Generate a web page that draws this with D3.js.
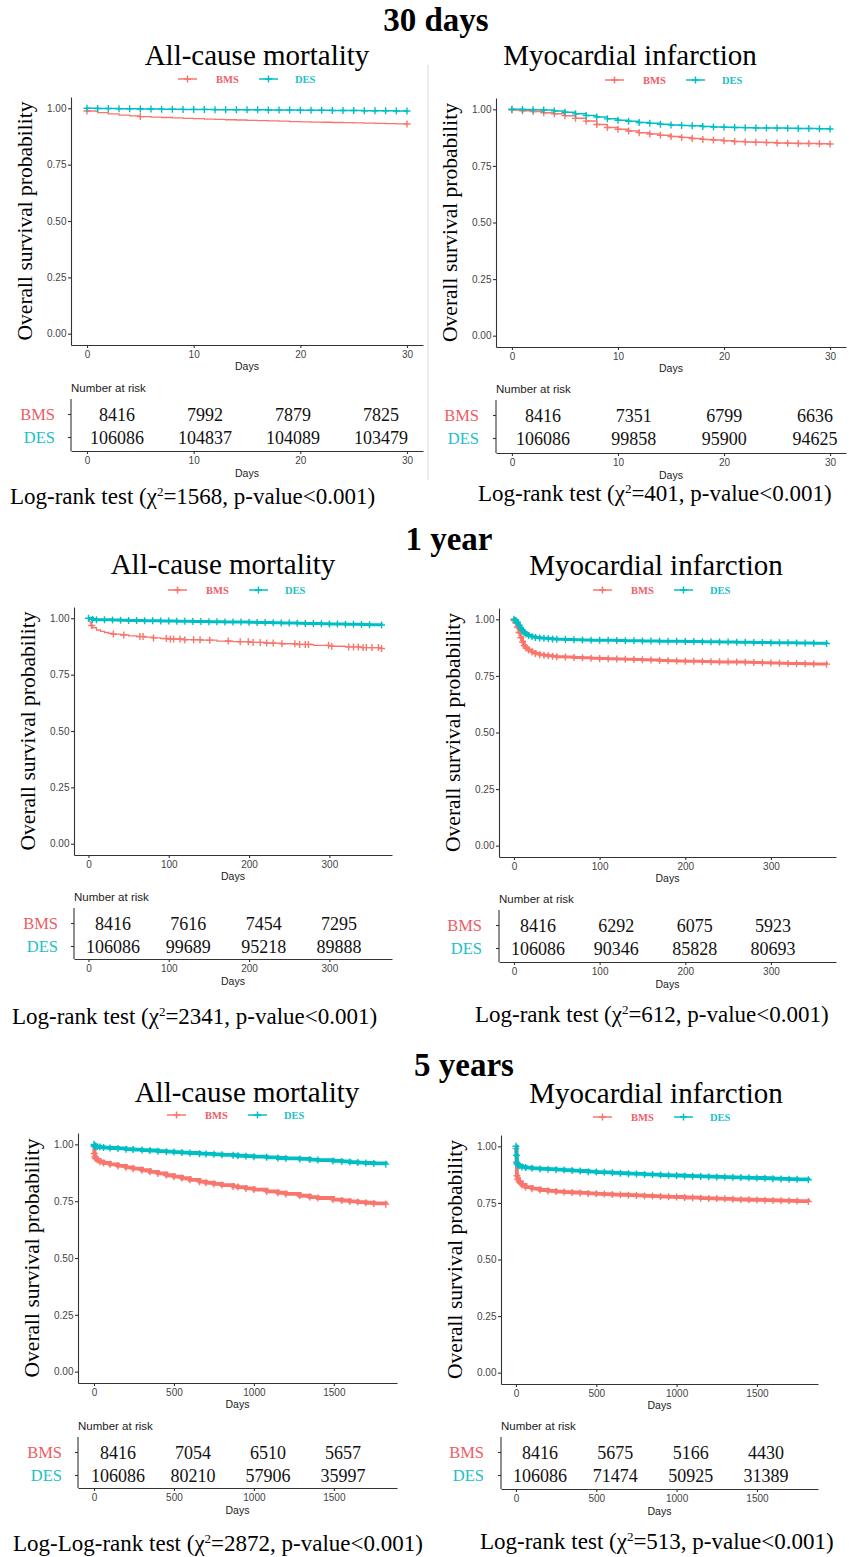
<!DOCTYPE html>
<html>
<head>
<meta charset="utf-8">
<script src="https://cdn.jsdelivr.net/npm/d3@7"></script>
<style>
  body { margin: 0; background: #fff; }
  svg { display: block; }
  .axis .domain, .axis line { stroke: #333; stroke-width: 1.1; }
  .axis text { fill: #444; font-family: "Liberation Sans", Arial, sans-serif; font-size: 10px; }
  .serif { font-family: "Liberation Serif", "Times New Roman", serif; }
  .sans { font-family: "Liberation Sans", Arial, sans-serif; }
</style>
</head>
<body>
<svg id="chart"></svg>
<script>

var sections = ['30 days', '1 year', '5 years']
var endpoints = ['All-cause mortality', 'Myocardial infarction']
var groups = ['BMS', 'DES']
var yTicks = [0, 0.25, 0.5, 0.75, 1]
var xTicks30d = [0, 10, 20, 30]
var xTicks1y = [0, 100, 200, 300]
var xTicks5y = [0, 500, 1000, 1500]

// 30 days - all-cause mortality
var t30 = [0,1,2,3,4,5,6,7,8,9,10,11,12,13,14,15,16,17,18,19,20,21,22,23,24,25,26,27,28,29,30]
var acm30Bms = [.988,.981,.975,.970,.966,.963,.961,.959,.957,.955,.954,.952,.951,.949,.948,.946,.945,.944,.943,.941,.940,.939,.938,.937,.936,.935,.934,.933,.932,.931,.930]
var acm30Des = [1,.999,.999,.998,.998,.997,.997,.996,.996,.995,.995,.995,.994,.994,.993,.993,.993,.992,.992,.992,.991,.991,.991,.990,.990,.990,.989,.989,.989,.988,.988]
var acm30BmsCens = [0, 5, 30]

// 30 days - myocardial infarction
var mi30Bms = [.997,.994,.990,.985,.980,.972,.960,.948,.933,.920,.912,.904,.897,.891,.885,.880,.876,.871,.867,.864,.861,.858,.856,.854,.853,.851,.850,.849,.849,.848,.847]
var mi30Des = [1,.999,.998,.997,.993,.987,.980,.973,.966,.958,.952,.947,.942,.938,.934,.931,.929,.927,.924,.922,.921,.920,.919,.918,.918,.917,.916,.915,.915,.914,.913]

// 1 year - all-cause mortality
var tAcm1yBms = [0,1,3,5,10,15,20,25,30,40,50,60,70,80,90,100,120,140,160,180,200,220,240,260,280,300,320,340,365]
var acm1yBms = [.99,.985,.968,.958,.948,.942,.937,.933,.930,.926,.922,.919,.916,.913,.910,.908,.905,.903,.899,.896,.893,.890,.887,.884,.880,.876,.873,.870,.866]
var acm1yBmsCens = [4,31,44,64,68,81,97,102,106,114,120,131,139,151,174,189,199,205,214,222,230,241,257,263,270,274,299,303,324,330,336,342,346,353,361,365]
var tAcm1yDes = [0,5,10,20,30,40,50,60,70,80,90,100,110,120,130,140,150,160,170,180,190,200,210,220,230,240,250,260,270,280,290,300,310,320,330,340,350,365]
var acm1yDes = [1,.995,.994,.993,.992,.991,.990,.990,.989,.989,.988,.988,.987,.987,.986,.986,.985,.985,.984,.983,.983,.982,.981,.981,.980,.979,.979,.978,.977,.977,.976,.975,.975,.974,.973,.972,.971,.970]

// 1 year - myocardial infarction
var tMi1y = [0,2,4,6,8,10,12,14,17,21,25,30,35,40,45,50,60,70,80,90,100,110,120,130,140,150,160,170,180,190,200,210,220,230,240,250,260,270,280,290,300,310,320,330,340,350,365]
var mi1yBms = [.995,.985,.965,.942,.92,.90,.883,.873,.864,.856,.849,.844,.841,.839,.837,.835,.833,.831,.83,.828,.827,.826,.825,.824,.823,.821,.82,.818,.817,.816,.815,.815,.814,.813,.812,.812,.811,.81,.809,.808,.807,.806,.805,.805,.804,.803,.802]
var mi1yDes = [1,.995,.985,.972,.96,.95,.942,.935,.928,.923,.92,.917,.916,.915,.913,.912,.911,.91,.909,.908,.908,.907,.906,.905,.905,.904,.904,.903,.903,.903,.902,.902,.901,.901,.90,.90,.899,.899,.898,.898,.897,.897,.896,.895,.895,.894,.893]

// 5 years - all-cause mortality
var tAcm5y = [0,2,5,10,20,37,60,100,150,200,245,300,350,400,453,500,550,600,660,700,750,800,870,900,950,1000,1080,1150,1200,1287,1350,1400,1495,1550,1600,1650,1700,1750,1825]
var acm5yBms = [.99,.96,.945,.938,.932,.924,.918,.912,.905,.899,.893,.886,.879,.872,.864,.858,.851,.844,.836,.831,.826,.821,.815,.812,.806,.801,.793,.787,.782,.774,.768,.764,.757,.753,.749,.746,.743,.74,.737]
var acm5yDes = [1,.995,.993,.991,.990,.988,.986,.984,.982,.979,.977,.975,.973,.97,.968,.966,.964,.962,.959,.958,.956,.954,.952,.95,.948,.946,.943,.94,.938,.936,.933,.931,.927,.925,.922,.92,.918,.916,.913]

// 5 years - myocardial infarction
var tMi5y = [0,3,6,10,20,37,60,100,150,200,250,300,350,400,450,500,550,600,650,700,750,800,850,900,950,1000,1050,1100,1150,1200,1250,1300,1350,1400,1450,1500,1550,1600,1650,1700,1750,1820]
var mi5yBms = [.99,.93,.87,.855,.842,.83,.82,.813,.807,.803,.80,.798,.796,.794,.792,.79,.789,.787,.786,.784,.783,.781,.78,.778,.777,.776,.774,.773,.771,.77,.769,.768,.766,.765,.764,.763,.762,.761,.76,.759,.758,.756]
var mi5yDes = [1,.96,.925,.918,.914,.909,.906,.903,.90,.899,.897,.895,.893,.891,.888,.886,.885,.883,.881,.879,.878,.876,.875,.873,.872,.871,.869,.868,.867,.866,.865,.864,.863,.862,.861,.86,.859,.857,.856,.855,.854,.852]

// numbers at risk
var riskAcm30Bms = [8416, 7992, 7879, 7825]
var riskAcm30Des = [106086, 104837, 104089, 103479]
var riskMi30Bms = [8416, 7351, 6799, 6636]
var riskMi30Des = [106086, 99858, 95900, 94625]
var riskAcm1yBms = [8416, 7616, 7454, 7295]
var riskAcm1yDes = [106086, 99689, 95218, 89888]
var riskMi1yBms = [8416, 6292, 6075, 5923]
var riskMi1yDes = [106086, 90346, 85828, 80693]
var riskAcm5yBms = [8416, 7054, 6510, 5657]
var riskAcm5yDes = [106086, 80210, 57906, 35997]
var riskMi5yBms = [8416, 5675, 5166, 4430]
var riskMi5yDes = [106086, 71474, 50925, 31389]

var testNames = ['Log-rank test', 'Log-rank test', 'Log-rank test', 'Log-rank test', 'Log-Log-rank test', 'Log-rank test']
var chiValues = [1568, 401, 2341, 612, 2872, 513]

var colors = {BMS: '#F8766D', DES: '#00BFC4'}
var labelColors = {BMS: '#EE5D66', DES: '#22C0C6'}
var W = 849, H = 1557

var panelData = [
  {sec: 0, ep: 0, ticks: xTicks30d,
   series: [{t: t30, s: acm30Bms, c: acm30BmsCens}, {t: t30, s: acm30Des}],
   risk: [riskAcm30Bms, riskAcm30Des]},
  {sec: 0, ep: 1, ticks: xTicks30d,
   series: [{t: t30, s: mi30Bms}, {t: t30, s: mi30Des}],
   risk: [riskMi30Bms, riskMi30Des]},
  {sec: 1, ep: 0, ticks: xTicks1y,
   series: [{t: tAcm1yBms, s: acm1yBms, c: acm1yBmsCens}, {t: tAcm1yDes, s: acm1yDes}],
   risk: [riskAcm1yBms, riskAcm1yDes]},
  {sec: 1, ep: 1, ticks: xTicks1y,
   series: [{t: tMi1y, s: mi1yBms}, {t: tMi1y, s: mi1yDes}],
   risk: [riskMi1yBms, riskMi1yDes]},
  {sec: 2, ep: 0, ticks: xTicks5y,
   series: [{t: tAcm5y, s: acm5yBms}, {t: tAcm5y, s: acm5yDes}],
   risk: [riskAcm5yBms, riskAcm5yDes]},
  {sec: 2, ep: 1, ticks: xTicks5y,
   series: [{t: tMi5y, s: mi5yBms}, {t: tMi5y, s: mi5yDes}],
   risk: [riskMi5yBms, riskMi5yDes]}
]

// page geometry of each panel
var layout = [
  {left: 71, top: 97, right: 423, bottom: 345, xdom: [-1.5, 31.5], title: [257, 65], legend: [178, 79],
   rtop: 399, rbottom: 451, rcols: [117, 381], rlab: 55, test: [10, 504], lw: [1.3, 1.5]},
  {left: 496, top: 98, right: 846, bottom: 347, xdom: [-1.5, 31.5], title: [630, 65], legend: [605, 80],
   rtop: 400, rbottom: 453, rcols: [543, 815], rlab: 479, test: [478, 501], lw: [1.5, 1.5]},
  {left: 74, top: 607, right: 392, bottom: 855, xdom: [-18, 378], title: [223, 574], legend: [168, 590],
   rtop: 908, rbottom: 959, rcols: [113, 339], rlab: 58, test: [12, 1024], lw: [1.3, 3]},
  {left: 499, top: 608, right: 836, bottom: 857, xdom: [-17.5, 376], title: [656, 575], legend: [593, 590],
   rtop: 910, rbottom: 962, rcols: [538, 773], rlab: 482, test: [475, 1022], lw: [3, 3]},
  {left: 78, top: 1133, right: 397, bottom: 1383, xdom: [-100, 1895], title: [247, 1102], legend: [167, 1115],
   rtop: 1437, rbottom: 1488, rcols: [118, 343], rlab: 62, test: [13, 1551], lw: [3.8, 3.8]},
  {left: 501, top: 1135, right: 818, bottom: 1384, xdom: [-93, 1880], title: [656, 1103], legend: [593, 1117],
   rtop: 1437, rbottom: 1489, rcols: [540, 766], rlab: 484, test: [480, 1549], lw: [3.8, 3.8]}
]

var sectionPos = [[436, 31], [449, 550], [464, 1076]]

var svg = d3.select('#chart')
    .attr('width', W)
    .attr('height', H)

svg.append('rect').attr('width', W).attr('height', H).attr('fill', '#fff')

// light divider in the first row
svg.append('line')
    .attr('x1', 428).attr('x2', 428)
    .attr('y1', 65).attr('y2', 480)
    .attr('stroke', '#e4e4e4')
    .attr('stroke-width', 1.5)

sections.forEach(function(s, i) {
  svg.append('text')
      .attr('class', 'serif')
      .attr('x', sectionPos[i][0])
      .attr('y', sectionPos[i][1])
      .attr('text-anchor', 'middle')
      .attr('font-size', 33)
      .attr('font-weight', 'bold')
      .text(s)
})

function plus(x, y, r) {
  return 'M' + (x - r) + ',' + y + 'h' + (2 * r) + 'M' + x + ',' + (y - r) + 'v' + (2 * r)
}

function survAt(ser, time) {
  var i = d3.bisectRight(ser.t, time) - 1
  return ser.s[Math.max(0, i)]
}

panelData.forEach(function(d, i) {
  var p = layout[i]
  var g = svg.append('g')

  var x = d3.scaleLinear().domain(p.xdom).range([p.left, p.right])
  var y = d3.scaleLinear().domain([-0.05, 1.05]).range([p.bottom, p.top])

  // titles
  g.append('text')
      .attr('class', 'serif')
      .attr('x', p.title[0]).attr('y', p.title[1])
      .attr('text-anchor', 'middle')
      .attr('font-size', 29)
      .text(endpoints[d.ep])

  // legend
  groups.forEach(function(gr, k) {
    var lx = p.legend[0] + k * 81, ly = p.legend[1]
    g.append('line')
        .attr('x1', lx).attr('x2', lx + 19)
        .attr('y1', ly).attr('y2', ly)
        .attr('stroke', colors[gr]).attr('stroke-width', 1.5)
    g.append('path')
        .attr('d', plus(lx + 9.5, ly, 3.5))
        .attr('stroke', colors[gr]).attr('stroke-width', 1.5)
    g.append('text')
        .attr('class', 'serif')
        .attr('x', lx + 38 - (k ? 2 : 0)).attr('y', ly)
        .attr('dy', '0.35em')
        .attr('font-size', 10.5)
        .attr('font-weight', 'bold')
        .attr('fill', labelColors[gr])
        .text(gr)
  })

  // axes
  g.append('g')
      .attr('class', 'axis')
      .attr('transform', 'translate(0,' + p.bottom + ')')
      .call(d3.axisBottom(x).tickValues(d.ticks).tickSize(3).tickSizeOuter(0).tickPadding(3)
        .tickFormat(d3.format('d')))
  g.append('g')
      .attr('class', 'axis')
      .attr('transform', 'translate(' + p.left + ',0)')
      .call(d3.axisLeft(y).tickValues(yTicks).tickSize(3).tickSizeOuter(0).tickPadding(1.5)
        .tickFormat(d3.format('.2f')))

  g.append('text')
      .attr('class', 'sans')
      .attr('x', (p.left + p.right) / 2).attr('y', p.bottom + 25)
      .attr('text-anchor', 'middle')
      .attr('font-size', 10.5)
      .attr('fill', '#222')
      .text('Days')

  g.append('text')
      .attr('class', 'serif')
      .attr('transform', 'translate(' + (p.left - 39) + ',' + ((p.top + p.bottom) / 2) + ') rotate(-90)')
      .attr('text-anchor', 'middle')
      .attr('font-size', 21.5)
      .text('Overall survival probability')

  // curves
  var line = d3.line()
      .x(function(v) { return x(v[0]) })
      .y(function(v) { return y(v[1]) })
      .curve(d3.curveStepAfter)

  d.series.forEach(function(ser, k) {
    var col = colors[groups[k]]
    var pts = ser.t.map(function(t, j) { return [t, ser.s[j]] })
    g.append('path')
        .datum(pts)
        .attr('d', line)
        .attr('fill', 'none')
        .attr('stroke', col)
        .attr('stroke-width', p.lw[k])
    var cens = ser.c || ser.t
    g.append('path')
        .attr('d', cens.map(function(c) { return plus(x(c), y(survAt(ser, c)), 3.5) }).join(''))
        .attr('fill', 'none')
        .attr('stroke', col)
        .attr('stroke-width', 1.4)
  })

  // number at risk table
  g.append('text')
      .attr('class', 'sans')
      .attr('x', p.left).attr('y', p.rtop - 7)
      .attr('font-size', 11.5)
      .attr('fill', '#222')
      .text('Number at risk')

  var ry = d3.scalePoint().domain(groups).range([p.rtop + 15.5, p.rtop + 38.5])
  var rx = d3.scalePoint().domain(d.ticks).range(p.rcols)

  g.append('g')
      .attr('class', 'axis')
      .attr('transform', 'translate(0,' + p.rbottom + ')')
      .call(d3.axisBottom(x).tickValues(d.ticks).tickSize(3).tickSizeOuter(0).tickPadding(3)
        .tickFormat(d3.format('d')))
  g.append('line')
      .attr('x1', p.left).attr('x2', p.left)
      .attr('y1', p.rtop).attr('y2', p.rbottom)
      .attr('stroke', '#333').attr('stroke-width', 1.1)

  groups.forEach(function(gr, k) {
    g.append('line')
        .attr('x1', p.left - 3).attr('x2', p.left)
        .attr('y1', ry(gr)).attr('y2', ry(gr))
        .attr('stroke', '#333').attr('stroke-width', 1.1)
    g.append('text')
        .attr('class', 'serif')
        .attr('x', p.rlab).attr('y', ry(gr))
        .attr('dy', '0.36em')
        .attr('text-anchor', 'end')
        .attr('font-size', 16.5)
        .attr('fill', labelColors[gr])
        .text(gr)
    g.selectAll(null)
        .data(d.risk[k])
      .enter().append('text')
        .attr('class', 'serif')
        .attr('x', function(v, j) { return rx(d.ticks[j]) })
        .attr('y', ry(gr))
        .attr('dy', '0.36em')
        .attr('text-anchor', 'middle')
        .attr('font-size', 18)
        .attr('fill', '#111')
        .text(function(v) { return v })
  })

  g.append('text')
      .attr('class', 'sans')
      .attr('x', (p.left + p.right) / 2).attr('y', p.rbottom + 26)
      .attr('text-anchor', 'middle')
      .attr('font-size', 10.5)
      .attr('fill', '#222')
      .text('Days')

  // log-rank line
  var tx = g.append('text')
      .attr('class', 'serif')
      .attr('x', p.test[0]).attr('y', p.test[1])
      .attr('font-size', 23)
      .attr('fill', '#000')
  tx.append('tspan').text(testNames[i] + ' (\u03c7')
  tx.append('tspan').attr('dy', -8).attr('font-size', 13).text('2')
  tx.append('tspan').attr('dy', 8).text('=' + chiValues[i] + ', p-value<0.001)')
})

</script>
</body>
</html>
